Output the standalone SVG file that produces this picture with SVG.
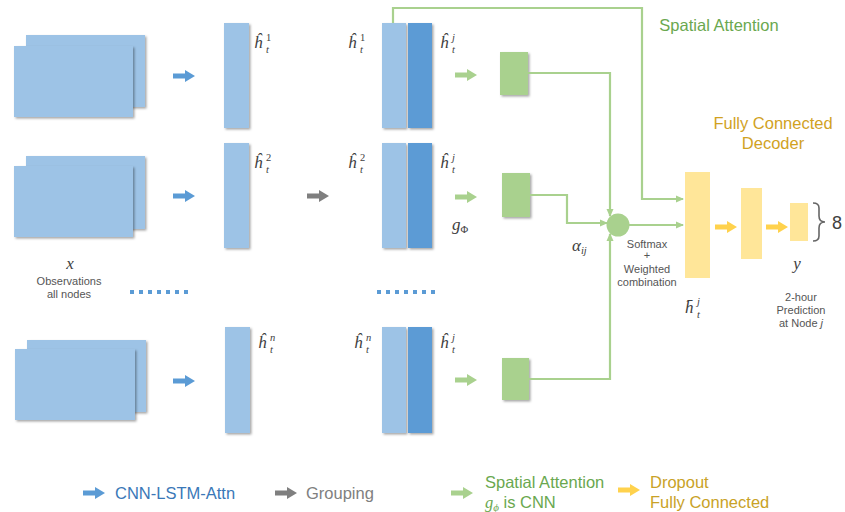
<svg xmlns="http://www.w3.org/2000/svg" xmlns:xlink="http://www.w3.org/1999/xlink" width="845" height="512" viewBox="0 0 845 512">
  <style>
    .sans { font-family: "Liberation Sans", Arial, sans-serif; }
    .m { font-family: "Liberation Serif", "DejaVu Serif", serif; font-style: italic; font-size: 17px; fill: #404040; }
    .s { font-size: 10.5px; }
    .up { font-style: normal; }
    .obs { fill: #9dc3e6; filter: url(#sh); }
    .lb { fill: #9dc3e6; filter: url(#sh); }
    .db { fill: #5b9bd5; filter: url(#sh); }
    .gr { fill: #a9d18e; filter: url(#sh); }
    .yb { fill: #ffe699; }
    .wire { fill: none; stroke: #a9d18e; stroke-width: 2.2; }
    .small { font-size: 11px; fill: #555; text-anchor: middle; }
    .leg { font-size: 16.5px; }
  </style>
  <defs>
    <filter id="sh" x="-20%" y="-20%" width="150%" height="150%">
      <feDropShadow dx="1.5" dy="1.5" stdDeviation="0.8" flood-color="#000" flood-opacity="0.35"/>
    </filter>
    <path id="blk" d="M0,-2.5H12V-6L22,0L12,6V2.5H0Z"/>
    <marker id="ah" markerUnits="userSpaceOnUse" markerWidth="8" markerHeight="8" viewBox="0 0 8 8" refX="7" refY="4" orient="auto">
      <path d="M0,0.5L8,4L0,7.5Z" fill="#a9d18e"/>
    </marker>
  </defs>

  <!-- input observations per node -->
  <g id="obs1"><rect class="obs" x="26" y="35" width="119" height="72"/><rect class="obs" x="14" y="46" width="119" height="71"/></g>
  <g id="obs2"><rect class="obs" x="26" y="156" width="119" height="73"/><rect class="obs" x="14" y="166" width="119" height="71"/></g>
  <g id="obs3"><rect class="obs" x="27" y="340" width="119" height="72"/><rect class="obs" x="15" y="349" width="120" height="71"/></g>
  <g id="obs-label">
    <text class="m" x="70" y="269" text-anchor="middle">x</text>
    <text class="sans small" x="69" y="285">Observations</text>
    <text class="sans small" x="69" y="298">all nodes</text>
  </g>

  <!-- encoded hidden states -->
  <g id="h1">
    <rect class="lb" x="224" y="23" width="25" height="105"/>
    <text class="m" x="254" y="48">ĥ<tspan class="s up" x="266" y="41">1</tspan><tspan class="s" x="266" y="53">t</tspan></text>
  </g>
  <g id="h2">
    <rect class="lb" x="224" y="143" width="25" height="105"/>
    <text class="m" x="254" y="168">ĥ<tspan class="s up" x="266" y="161">2</tspan><tspan class="s" x="266" y="173">t</tspan></text>
  </g>
  <g id="hn">
    <rect class="lb" x="225" y="327" width="25" height="106"/>
    <text class="m" x="258" y="348">ĥ<tspan class="s" x="270" y="341">n</tspan><tspan class="s" x="270" y="353">t</tspan></text>
  </g>

  <!-- grouped pairs (node i with target node j) -->
  <g id="pair1">
    <rect class="lb" x="382" y="23" width="24" height="105"/>
    <rect class="db" x="408" y="23" width="24" height="105"/>
    <text class="m" x="348" y="48">ĥ<tspan class="s up" x="360" y="41">1</tspan><tspan class="s" x="360" y="53">t</tspan></text>
    <text class="m" x="440" y="48">ĥ<tspan class="s" x="452" y="41">j</tspan><tspan class="s" x="452" y="53">t</tspan></text>
  </g>
  <g id="pair2">
    <rect class="lb" x="382" y="143" width="24" height="105"/>
    <rect class="db" x="408" y="143" width="24" height="105"/>
    <text class="m" x="348" y="168">ĥ<tspan class="s up" x="360" y="161">2</tspan><tspan class="s" x="360" y="173">t</tspan></text>
    <text class="m" x="440" y="168">ĥ<tspan class="s" x="452" y="161">j</tspan><tspan class="s" x="452" y="173">t</tspan></text>
  </g>
  <g id="pairn">
    <rect class="lb" x="382" y="327" width="24" height="106"/>
    <rect class="db" x="408" y="327" width="24" height="106"/>
    <text class="m" x="354" y="348">ĥ<tspan class="s" x="366" y="341">n</tspan><tspan class="s" x="366" y="353">t</tspan></text>
    <text class="m" x="440" y="348">ĥ<tspan class="s" x="452" y="341">j</tspan><tspan class="s" x="452" y="353">t</tspan></text>
  </g>

  <!-- ellipsis dots -->
  <g id="dots" fill="#5b9bd5">
    <rect x="130" y="290" width="4" height="4"/><rect x="139" y="290" width="4" height="4"/><rect x="148" y="290" width="4" height="4"/><rect x="157" y="290" width="4" height="4"/><rect x="166" y="290" width="4" height="4"/><rect x="175" y="290" width="4" height="4"/><rect x="184" y="290" width="4" height="4"/>
    <rect x="377" y="290" width="4" height="4"/><rect x="386" y="290" width="4" height="4"/><rect x="395" y="290" width="4" height="4"/><rect x="404" y="290" width="4" height="4"/><rect x="413" y="290" width="4" height="4"/><rect x="422" y="290" width="4" height="4"/><rect x="431" y="290" width="4" height="4"/>
  </g>

  <!-- attention CNN blocks g_phi -->
  <g id="g1"><rect class="gr" x="500" y="52" width="28" height="43"/></g>
  <g id="g2">
    <rect class="gr" x="502" y="173" width="28" height="44"/>
    <text class="m" x="452" y="230">g<tspan class="s up" dy="3">Φ</tspan></text>
  </g>
  <g id="g3"><rect class="gr" x="502" y="358" width="27" height="42"/></g>

  <!-- softmax + weighted combination -->
  <g id="combine">
    <circle cx="618" cy="225" r="11.5" fill="#a9d18e"/>
    <text class="m" x="572" y="251">α<tspan class="s" dy="3">ij</tspan></text>
    <text class="sans small" x="647" y="248">Softmax</text>
    <text class="sans small" x="647" y="259">+</text>
    <text class="sans small" x="647" y="273">Weighted</text>
    <text class="sans small" x="647" y="286">combination</text>
  </g>

  <!-- fully connected decoder -->
  <g id="fc1">
    <rect class="yb" x="685" y="172" width="25" height="106"/>
    <text class="m" x="685" y="313">h̄<tspan class="s" x="697" y="305">j</tspan><tspan class="s" x="697" y="318">t</tspan></text>
  </g>
  <g id="fc2"><rect class="yb" x="741" y="188" width="21" height="71"/></g>
  <g id="fc3">
    <rect class="yb" x="790" y="203" width="18" height="38"/>
    <path d="M813,203 q6,0 6,5 v8 q0,6 6,6 q-6,0 -6,6 v8 q0,5 -6,5" fill="none" stroke="#666" stroke-width="1.6"/>
    <text class="sans" x="832" y="229" font-size="18" fill="#404040">8</text>
    <text class="m" x="797" y="269" text-anchor="middle">y</text>
    <text class="sans small" x="801" y="301">2-hour</text>
    <text class="sans small" x="801" y="314">Prediction</text>
    <text class="sans small" x="801" y="327">at Node <tspan font-style="italic">j</tspan></text>
  </g>

  <g id="titles" class="sans">
    <text x="719" y="31" font-size="16.5" fill="#6aa84f" text-anchor="middle">Spatial Attention</text>
    <text x="773" y="129" font-size="16.5" fill="#d1a21f" text-anchor="middle">Fully Connected</text>
    <text x="773" y="149" font-size="16.5" fill="#d1a21f" text-anchor="middle">Decoder</text>
  </g>

  <!-- connectors -->
  <g id="connectors">
    <use href="#blk" transform="translate(173,76)" fill="#5b9bd5"/>
    <use href="#blk" transform="translate(173,196)" fill="#5b9bd5"/>
    <use href="#blk" transform="translate(173,381)" fill="#5b9bd5"/>
    <use href="#blk" transform="translate(307,196)" fill="#7f7f7f"/>
    <use href="#blk" transform="translate(455,75)" fill="#a9d18e"/>
    <use href="#blk" transform="translate(455,197)" fill="#a9d18e"/>
    <use href="#blk" transform="translate(455,380)" fill="#a9d18e"/>
    <use href="#blk" transform="translate(715,227)" fill="#ffd24d"/>
    <use href="#blk" transform="translate(766,227)" fill="#ffd24d"/>

    <path class="wire" d="M393,23V8H642V199H683" marker-end="url(#ah)"/>
    <path class="wire" d="M528,73H610V216" marker-end="url(#ah)"/>
    <path class="wire" d="M530,195H567V223H607" marker-end="url(#ah)"/>
    <path class="wire" d="M529,379H610V234" marker-end="url(#ah)"/>
    <path class="wire" d="M629,225H683" marker-end="url(#ah)"/>
  </g>

  <!-- legend -->
  <g id="legend" class="sans">
    <use href="#blk" transform="translate(83,493)" fill="#5b9bd5"/>
    <text class="leg" x="115" y="499" fill="#3a78b8">CNN-LSTM-Attn</text>
    <use href="#blk" transform="translate(275,493)" fill="#7f7f7f"/>
    <text class="leg" x="306" y="499" fill="#808080">Grouping</text>
    <use href="#blk" transform="translate(451,493)" fill="#a9d18e"/>
    <text class="leg" x="485" y="488" fill="#6aa84f">Spatial Attention</text>
    <text class="leg" x="485" y="508" fill="#6aa84f"><tspan font-family="Liberation Serif, serif" font-style="italic">g</tspan><tspan font-family="Liberation Serif, serif" font-style="italic" font-size="11" dy="3">ϕ</tspan><tspan dy="-3"> is CNN</tspan></text>
    <use href="#blk" transform="translate(618,490)" fill="#ffd24d"/>
    <text class="leg" x="650" y="488" fill="#c9a227">Dropout</text>
    <text class="leg" x="650" y="508" fill="#c9a227">Fully Connected</text>
  </g>
</svg>
